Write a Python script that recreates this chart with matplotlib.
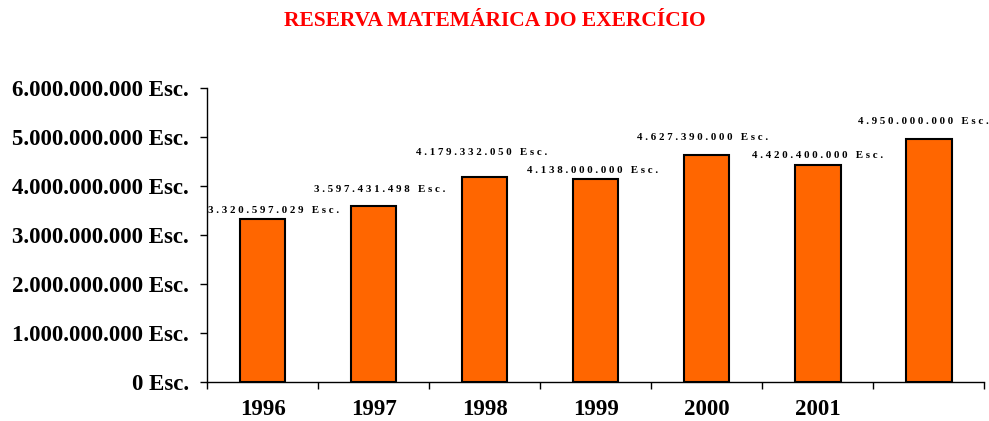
import numpy as np
import matplotlib.pyplot as plt

# valores da reserva matemática por exercício
years = ["1996", "1997", "1998", "1999", "2000", "2001", ""]
reserva = [3320597029, 3597431498, 4179332050, 4138000000, 4627390000, 4420400000, 4950000000]
value_labels = ["3.320.597.029 Esc.", "3.597.431.498 Esc.", "4.179.332.050 Esc.",
                "4.138.000.000 Esc.", "4.627.390.000 Esc.", "4.420.400.000 Esc.",
                "4.950.000.000 Esc."]
yticks = [0, 1e9, 2e9, 3e9, 4e9, 5e9, 6e9]
ytick_labels = ["0 Esc.", "1.000.000.000 Esc.", "2.000.000.000 Esc.", "3.000.000.000 Esc.",
                "4.000.000.000 Esc.", "5.000.000.000 Esc.", "6.000.000.000 Esc."]

# label placement (points from bar top centre) - set by hand like the original
label_dy = [6.5, 11.5, 18, 6.5, 13, 7, 13]
label_dx = [8, 4.3, -2.2, -2.2, -2.9, 0, -4]

plt.rcParams['font.family'] = ['Liberation Serif', 'DejaVu Serif']

fig = plt.figure(figsize=(9.89, 4.21), dpi=100)
ax = fig.add_axes([0.2093, 0.0926, 0.786, 0.6984])

x = np.arange(len(reserva))
bars = ax.bar(x, reserva, width=0.41, color="#FF6600", edgecolor="black", linewidth=1.5)

for i, b in enumerate(bars):
    spaced = " ".join(value_labels[i])
    ax.annotate(spaced, (b.get_x() + b.get_width() / 2, b.get_height()),
                xytext=(label_dx[i], label_dy[i]), textcoords="offset points",
                ha="center", va="center", fontsize=7.8, fontweight="bold")

ax.set_xlim(-0.5, len(reserva) - 0.5)
ax.set_ylim(0, 6e9)
ax.set_yticks(yticks)
ax.set_yticklabels(ytick_labels, fontsize=16.5, fontweight="bold")
ax.set_xticks(x)
ax.set_xticklabels(years, fontsize=16.5, fontweight="bold")
ax.tick_params(axis="x", length=0, pad=12)
ax.set_xticks(np.arange(len(reserva) + 1) - 0.5, minor=True)
ax.tick_params(axis="x", which="minor", length=5, width=1)
ax.tick_params(axis="y", length=5, width=1, pad=8)

for s in ["top", "right"]:
    ax.spines[s].set_visible(False)
ax.spines["left"].set_linewidth(1)
ax.spines["bottom"].set_linewidth(1)

fig.text(0.5, 0.95, "RESERVA MATEMÁRICA DO EXERCÍCIO", color="red", fontsize=15.5,
         fontweight="bold", ha="center", va="center")

fig.savefig("out.png", dpi=100)
